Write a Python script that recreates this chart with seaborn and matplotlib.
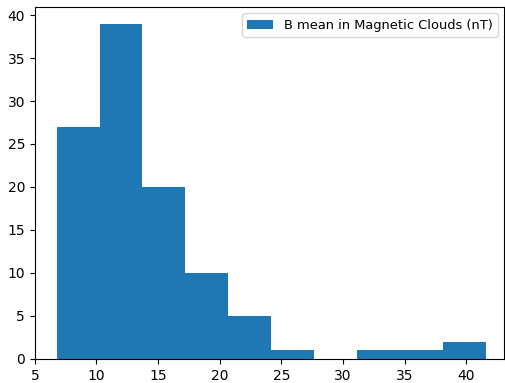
import numpy as np
import pandas as pd
import matplotlib
matplotlib.use('Agg')
import matplotlib.pyplot as plt
import seaborn as sns

# Histogram: bin edges and counts
bin_start = 6.76
bin_end = 41.62
counts = [27, 39, 20, 10, 5, 1, 0, 1, 1, 2]
label = 'B mean in Magnetic Clouds (nT)'

edges = np.linspace(bin_start, bin_end, len(counts) + 1)
centers = (edges[:-1] + edges[1:]) / 2
df = pd.DataFrame({'B': centers, 'count': counts})

fig, ax = plt.subplots(figsize=(5.05, 3.83), dpi=100)
sns.histplot(data=df, x='B', weights='count', bins=edges.tolist(), ax=ax,
             color='#1f77b4', alpha=1, linewidth=0, label=label)
ax.legend(loc='upper right', fontsize=9.4)
ax.set_xlabel('')
ax.set_ylabel('')
ax.set_xlim(5.0, 43.1)
ax.set_xticks([5, 10, 15, 20, 25, 30, 35, 40])
ax.set_yticks([0, 5, 10, 15, 20, 25, 30, 35, 40])

plt.subplots_adjust(left=0.069, right=0.999, bottom=0.063, top=0.982)
plt.savefig('out.png', dpi=100)
plt.close()
